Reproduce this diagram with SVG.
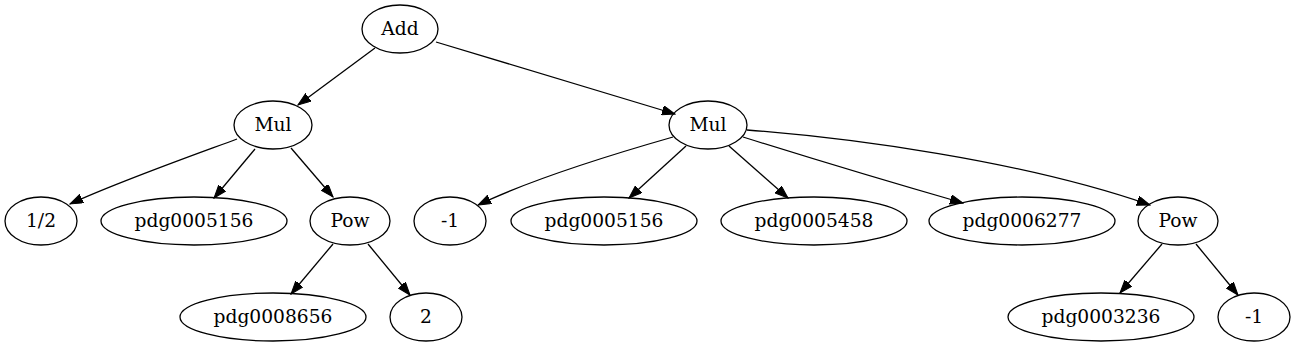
<svg xmlns="http://www.w3.org/2000/svg" width="1296" height="347" viewBox="0 0 1296 347">
<style>
.n ellipse{fill:none;stroke:#000;stroke-width:1.3}
.n text{font-family:"DejaVu Serif",serif;font-size:18.67px;text-anchor:middle;fill:#000}
.e path{fill:none;stroke:#000;stroke-width:1.3;marker-end:url(#ah)}
</style>
<defs>
<marker id="ah" markerUnits="userSpaceOnUse" markerWidth="14" markerHeight="10" refX="13" refY="4.7" orient="auto">
<path d="M0,0 L13,4.7 L0,9.4 z" fill="#000" stroke="#000" stroke-width="1"/>
</marker>
</defs>
<rect width="1296" height="347" fill="#fff"/>
<g id="edges" class="e">
<path d="M375,48 L298,105"/>
<path d="M436,42 L675,114"/>
<path d="M237,139 C205,151 120,181 70,204"/>
<path d="M255,149 L214,198"/>
<path d="M291,148 L333,197"/>
<path d="M333,244 L291,294"/>
<path d="M368,244 L410,295"/>
<path d="M673,137 C610,155 530,180 478,205"/>
<path d="M686,146 L629,198"/>
<path d="M729,146 L788,198"/>
<path d="M743,137 C810,158 900,185 963,203"/>
<path d="M747,130 C850,138 1020,160 1150,205"/>
<path d="M1162,244 L1120,293"/>
<path d="M1196,244 L1238,295"/>
</g>
<g id="n_add" class="n"><ellipse cx="400" cy="29" rx="38" ry="24"/><text x="400" y="35">Add</text></g>
<g id="n_mul1" class="n"><ellipse cx="273" cy="125" rx="39" ry="24"/><text x="273" y="131">Mul</text></g>
<g id="n_half" class="n"><ellipse cx="41" cy="221" rx="36" ry="24"/><text x="41" y="227">1/2</text></g>
<g id="n_pdg5156a" class="n"><ellipse cx="194" cy="221" rx="93" ry="24"/><text x="194" y="227">pdg0005156</text></g>
<g id="n_pow1" class="n"><ellipse cx="350" cy="221" rx="40" ry="24"/><text x="350" y="227">Pow</text></g>
<g id="n_pdg8656" class="n"><ellipse cx="273" cy="317" rx="93" ry="24"/><text x="273" y="323">pdg0008656</text></g>
<g id="n_two" class="n"><ellipse cx="426" cy="317" rx="36" ry="24"/><text x="426" y="323">2</text></g>
<g id="n_mul2" class="n"><ellipse cx="708" cy="125" rx="39" ry="24"/><text x="708" y="131">Mul</text></g>
<g id="n_m1a" class="n"><ellipse cx="450" cy="221" rx="36" ry="24"/><text x="450" y="227">-1</text></g>
<g id="n_pdg5156b" class="n"><ellipse cx="604" cy="221" rx="93" ry="24"/><text x="604" y="227">pdg0005156</text></g>
<g id="n_pdg5458" class="n"><ellipse cx="814" cy="221" rx="93" ry="24"/><text x="814" y="227">pdg0005458</text></g>
<g id="n_pdg6277" class="n"><ellipse cx="1022" cy="221" rx="93" ry="24"/><text x="1022" y="227">pdg0006277</text></g>
<g id="n_pow2" class="n"><ellipse cx="1178" cy="221" rx="40" ry="24"/><text x="1178" y="227">Pow</text></g>
<g id="n_pdg3236" class="n"><ellipse cx="1101" cy="317" rx="93" ry="24"/><text x="1101" y="323">pdg0003236</text></g>
<g id="n_m1b" class="n"><ellipse cx="1254" cy="317" rx="36" ry="24"/><text x="1254" y="323">-1</text></g>
</svg>
